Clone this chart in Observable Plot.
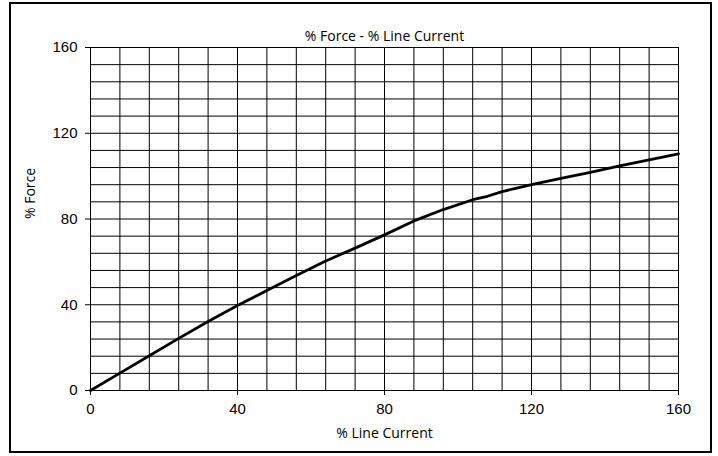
<!DOCTYPE html>
<html><head><meta charset="utf-8">
<script src="https://cdn.jsdelivr.net/npm/d3@7"></script>
<script src="https://cdn.jsdelivr.net/npm/@observablehq/plot@0.6"></script>
<style>
body{margin:0;background:#fff}
#wrap{position:relative;width:718px;height:456px}
#border{position:absolute;left:9px;top:2px;width:703px;height:451px;border:2px solid #000;pointer-events:none;box-sizing:border-box}
#wrap svg{position:absolute;left:0;top:0}
</style></head><body><div id="wrap"><div id="border"></div></div>
<script>
// % Line Current (x) and % Force (y)
const lineCurrent = [0, 8, 16, 24, 32, 40, 48, 56, 64, 72, 80, 88, 96, 104, 108, 112, 116, 120, 128, 136, 144, 152, 160];
const force       = [0, 8.1, 16.2, 24.3, 32.2, 39.6, 46.6, 53.6, 60.4, 66.4, 72.6, 79.1, 84.4, 89.0, 90.6, 92.8, 94.4, 96.0, 99.0, 101.8, 104.8, 107.6, 110.4];
const xTicks = [0, 40, 80, 120, 160];
const yTicks = [0, 40, 80, 120, 160];
const gridValues = [0, 8, 16, 24, 32, 40, 48, 56, 64, 72, 80, 88, 96, 104, 112, 120, 128, 136, 144, 152, 160];
const titleText = "% Force - % Line Current";
const xLabelText = "% Line Current";
const yLabelText = "% Force";

const data = lineCurrent.map((c, i) => ({c, f: force[i]}));
const labelFont = "'Open Sans', 'Noto Sans', sans-serif";

const chart = Plot.plot({
  width: 718, height: 456,
  marginLeft: 90, marginRight: 40, marginTop: 47, marginBottom: 66,
  style: {fontFamily: "'Liberation Sans', Arial, sans-serif", fontSize: "15px", color: "#000", background: "transparent"},
  x: {domain: [0, 160]},
  y: {domain: [0, 160]},
  marks: [
    Plot.gridX(gridValues, {stroke: "#000", strokeOpacity: 1, strokeWidth: 1}),
    Plot.gridY(gridValues, {stroke: "#000", strokeOpacity: 1, strokeWidth: 1}),
    Plot.axisX(xTicks, {tickSize: 5, tickPadding: 8, label: null, fontSize: 15}),
    Plot.axisY(yTicks, {tickSize: 5, tickPadding: 8, label: null, fontSize: 15}),
    Plot.line(data, {x: "c", y: "f", stroke: "#000", strokeWidth: 2.8}),
    Plot.text([titleText], {frameAnchor: "top", lineAnchor: "middle", dy: -11, fontFamily: labelFont, fontSize: 14, fill: "#000"}),
    Plot.text([xLabelText], {frameAnchor: "bottom", lineAnchor: "middle", dy: 43, fontFamily: labelFont, fontSize: 14, fill: "#000"}),
    Plot.text([yLabelText], {frameAnchor: "left", lineAnchor: "middle", dx: -60, rotate: -90, fontFamily: labelFont, fontSize: 14, fill: "#000"})
  ]
});
document.getElementById("wrap").appendChild(chart);
</script>
</body></html>
